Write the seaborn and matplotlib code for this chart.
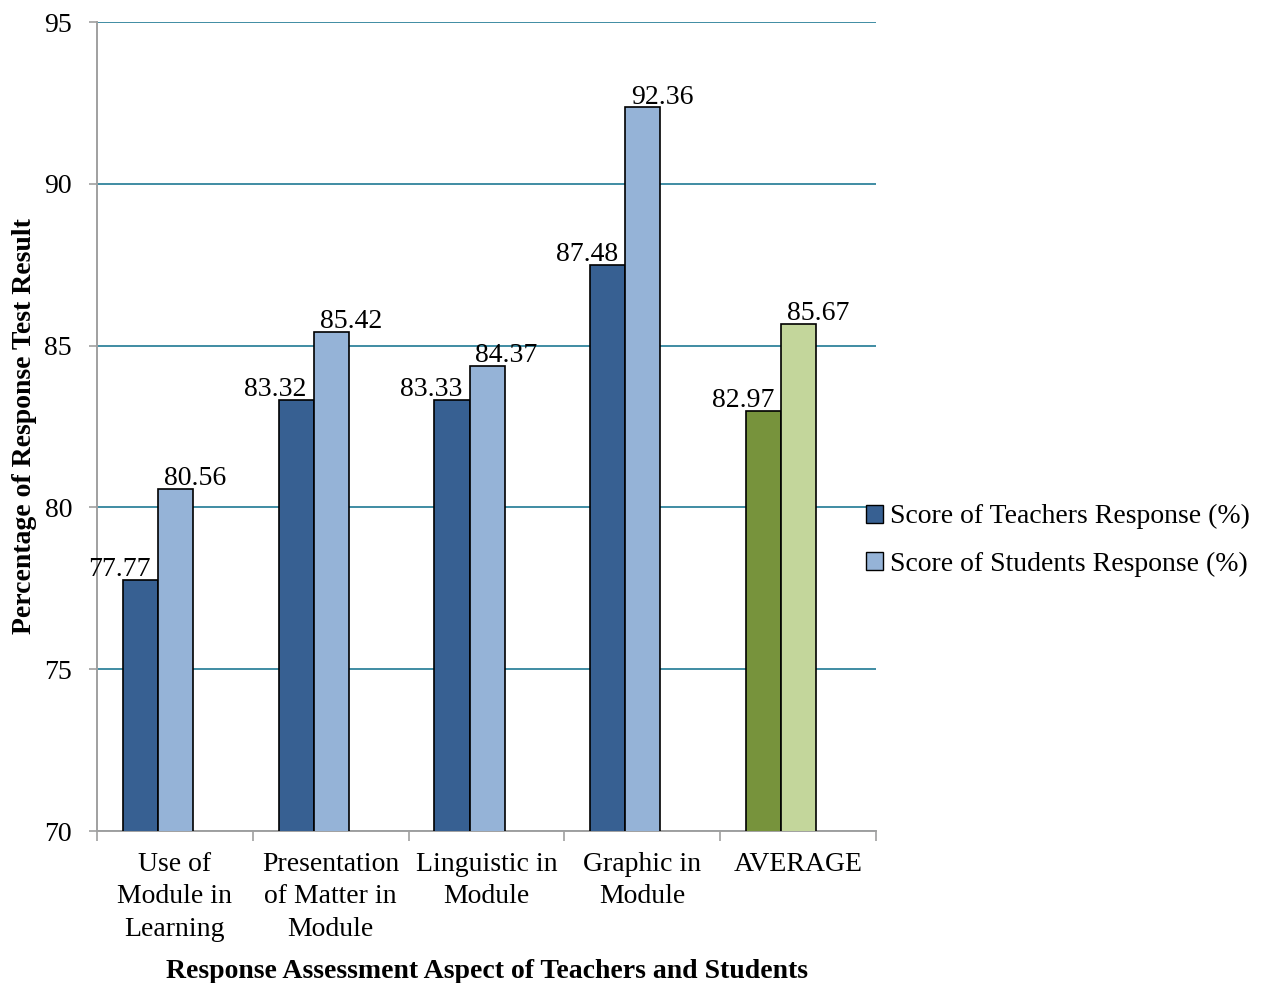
import matplotlib
matplotlib.use("Agg")
import matplotlib.pyplot as plt
from matplotlib.patches import Patch
from matplotlib.ticker import FixedLocator
import seaborn as sns
import pandas as pd

# Aspects assessed and the two response scores (%)
categories = [
    "Use of\nModule in\nLearning",
    "Presentation\nof Matter in\nModule",
    "Linguistic in\nModule",
    "Graphic in\nModule",
    "AVERAGE",
]
teachers = [77.77, 83.32, 83.33, 87.48, 82.97]
students = [80.56, 85.42, 84.37, 92.36, 85.67]
series_names = ["Score of Teachers Response (%)", "Score of Students Response (%)"]

df = pd.DataFrame({
    "aspect": categories * 2,
    "score": teachers + students,
    "series": [series_names[0]] * len(categories) + [series_names[1]] * len(categories),
})

sns.set_theme(style="white")
plt.rcParams["font.family"] = ["Liberation Serif", "DejaVu Serif"]
plt.rcParams["text.color"] = "black"
plt.rcParams["axes.labelcolor"] = "black"
plt.rcParams["xtick.color"] = "black"
plt.rcParams["ytick.color"] = "black"

blue_dark, blue_light = "#376092", "#95b3d7"
green_dark, green_light = "#77933c", "#c3d69b"
FS = 20

fig, ax = plt.subplots(figsize=(12.68, 9.83), dpi=100)
fig.subplots_adjust(left=0.0765, right=0.6909, top=0.9776, bottom=0.1546)

sns.barplot(data=df, x="aspect", y="score", hue="series", order=categories,
            hue_order=series_names, palette=[blue_dark, blue_light],
            width=0.45, edgecolor="black", linewidth=1.2, ax=ax, legend=False,
            zorder=3)

# Groups sit a little left of each category centre; the average group is green
group_shift = 0.109
fills = [(blue_dark, green_dark), (blue_light, green_light)]
for container, (normal, avg) in zip(ax.containers, fills):
    for i, bar in enumerate(container.patches):
        bar.set_x(bar.get_x() - group_shift)
        bar.set_facecolor(avg if categories[i] == "AVERAGE" else normal)

# Value labels above the bars
offsets = [-15, 14]
for container, vals, dx in zip(ax.containers, [teachers, students], offsets):
    for bar, v in zip(container.patches, vals):
        ax.annotate(f"{v:.2f}", (bar.get_x() + bar.get_width() / 2, v),
                    xytext=(dx, -1.5), textcoords="offset points",
                    ha="center", va="bottom", fontsize=FS, color="black",
                    zorder=4)

ax.set_ylim(70, 95)
ax.set_yticks([70, 75, 80, 85, 90, 95])
ax.set_xlim(-0.5, len(categories) - 0.5)

ax.yaxis.grid(True, color="#3f8ca3", linewidth=1.4, zorder=0)
ax.xaxis.grid(False)
ax.set_axisbelow(True)

for side in ["top", "right"]:
    ax.spines[side].set_visible(False)
for side in ["left", "bottom"]:
    ax.spines[side].set_color("#a0a0a0")
    ax.spines[side].set_linewidth(1.4)

ax.tick_params(axis="y", which="major", length=6, width=1.2, color="#a0a0a0",
               labelcolor="black", direction="out", left=True, pad=12,
               labelsize=FS)
ax.tick_params(axis="x", which="major", length=0, pad=15, labelsize=FS,
               labelcolor="black")
ax.xaxis.set_minor_locator(FixedLocator([i - 0.5 for i in range(len(categories) + 1)]))
ax.tick_params(axis="x", which="minor", length=7, width=1.2, color="#a0a0a0",
               direction="out", bottom=True)
ax.set_xticks(range(len(categories)))
ax.set_xticklabels(categories, linespacing=1.4)

ax.set_xlabel("Response Assessment Aspect of Teachers and Students",
              fontsize=FS, fontweight="bold", labelpad=12)
ax.set_ylabel("Percentage of Response Test Result", fontsize=FS,
              fontweight="bold", labelpad=5)

handles = [Patch(facecolor=blue_dark, edgecolor="black", linewidth=1.0),
           Patch(facecolor=blue_light, edgecolor="black", linewidth=1.0)]
ax.legend(handles, series_names, loc="center left", bbox_to_anchor=(0.987, 0.359),
          frameon=False, fontsize=FS, handlelength=0.6, handleheight=0.6,
          handletextpad=0.25, borderpad=0, borderaxespad=0, labelspacing=0.8)

fig.savefig("out.png", dpi=100)
